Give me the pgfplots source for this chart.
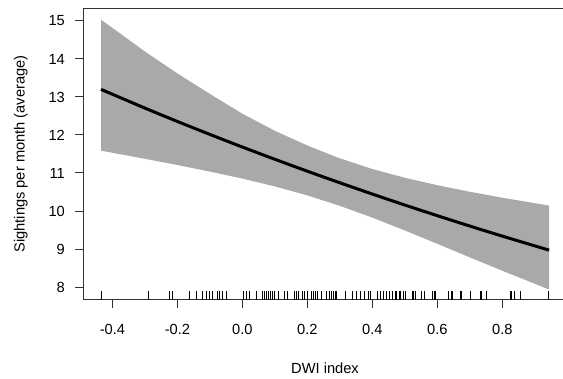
\documentclass[border=0pt]{standalone}
\usepackage{pgfplots}
\pgfplotsset{compat=1.18}
\usepackage{fontspec}
\setmainfont{Liberation Sans}
\definecolor{band}{RGB}{169,169,169}
\begin{document}
\fontsize{11}{13}\selectfont
\begin{tikzpicture}
\begin{axis}[
  at={(62.325pt,58.725pt)}, anchor=south west,
  scale only axis, width=362.85pt, height=218.55pt,
  xmin=-0.4902, xmax=0.9988, ymin=7.666, ymax=15.334,
  axis line style={line width=0.75pt, black!80},
  tick style={line width=0.75pt, black!80},
  tick align=outside, major tick length=6pt,
  xtick={-0.4,-0.2,0,0.2,0.4,0.6,0.8},
  xticklabels={-0.4,-0.2,0.0,0.2,0.4,0.6,0.8},
  ytick={8,9,10,11,12,13,14,15},
  xtick pos=bottom, ytick pos=left,
  /pgf/number format/assume math mode=true,
  xticklabel style={anchor=north, inner sep=0pt, yshift=-12pt},
  yticklabel style={anchor=east, inner sep=0pt, xshift=-7.5pt},
  xlabel={DWI index},
  ylabel={Sightings per month (average)},
  xlabel style={at={(axis description cs:0.5,-0.236)}, anchor=center, inner sep=0pt},
  ylabel style={at={(axis description cs:-0.1285,0.5)}, anchor=center, rotate=0, inner sep=0pt},
  clip=false,
]
% confidence band
\addplot[fill=band, draw=none] coordinates {
(-0.435,15.035) (-0.3,14.197) (-0.2,13.620) (-0.1,13.080) (0,12.560) (0.1,12.110)
(0.2,11.723) (0.3,11.385) (0.4,11.105) (0.5,10.874) (0.6,10.679) (0.7,10.506)
(0.8,10.350) (0.944,10.142)
(0.944,7.934) (0.8,8.428) (0.7,8.780) (0.6,9.136) (0.5,9.488) (0.4,9.826)
(0.3,10.136) (0.2,10.411) (0.1,10.647) (0,10.853) (-0.1,11.037) (-0.2,11.210)
(-0.3,11.374) (-0.435,11.588)
} -- cycle;
% fitted line
\addplot[black, line width=2.25pt, smooth] coordinates {
(-0.435,13.200) (-0.3,12.708) (-0.2,12.356) (-0.1,12.015) (0,11.683) (0.1,11.361)
(0.2,11.047) (0.3,10.743) (0.4,10.446) (0.5,10.157) (0.6,9.877) (0.7,9.604)
(0.8,9.339) (0.944,8.970)
};
% rug
\addplot[only marks, mark=|, mark size=3.375pt, mark options={line width=0.8pt, black}] coordinates {
(-0.4326,7.776) (-0.2902,7.776) (-0.2255,7.776) (-0.2163,7.776) (-0.1640,7.776)
(-0.1425,7.776) (-0.1218,7.776) (-0.1095,7.776) (-0.1025,7.776) (-0.0917,7.776)
(-0.0778,7.776) (-0.0717,7.776) (-0.0603,7.776) (-0.0486,7.776) (0.0037,7.776)
(0.0114,7.776) (0.0228,7.776) (0.0422,7.776) (0.0628,7.776) (0.0689,7.776)
(0.0751,7.776) (0.0812,7.776) (0.0874,7.776) (0.0935,7.776) (0.0997,7.776)
(0.1120,7.776) (0.1305,7.776) (0.1375,7.776) (0.1612,7.776) (0.1674,7.776)
(0.1735,7.776) (0.1837,7.776) (0.1914,7.776) (0.1991,7.776) (0.2114,7.776)
(0.2175,7.776) (0.2237,7.776) (0.2298,7.776) (0.2422,7.776) (0.2597,7.776)
(0.2668,7.776) (0.2729,7.776) (0.2791,7.776) (0.2852,7.776) (0.2905,7.776)
(0.3160,7.776) (0.3397,7.776) (0.3514,7.776) (0.3643,7.776) (0.3766,7.776)
(0.3889,7.776) (0.3951,7.776) (0.4145,7.776) (0.4258,7.776) (0.4338,7.776)
(0.4443,7.776) (0.4514,7.776) (0.4628,7.776) (0.4729,7.776) (0.4852,7.776)
(0.4945,7.776) (0.5015,7.776) (0.5252,7.776) (0.5323,7.776) (0.5508,7.776)
(0.5591,7.776) (0.5858,7.776) (0.5929,7.776) (0.6351,7.776) (0.6452,7.776)
(0.6729,7.776) (0.7028,7.776) (0.7345,7.776) (0.7520,7.776) (0.8268,7.776)
(0.8382,7.776) (0.8566,7.776) (0.9428,7.776)
};
\end{axis}
\pgfresetboundingbox
\useasboundingbox (0,0) rectangle (422.25pt,283.5pt);
\end{tikzpicture}
\end{document}
